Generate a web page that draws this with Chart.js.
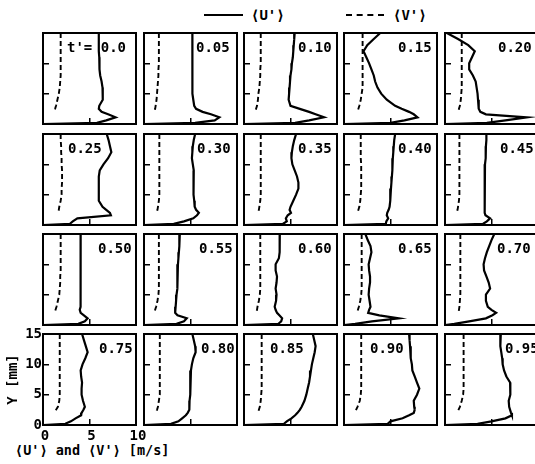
<!DOCTYPE html>
<html>
<head>
<meta charset="utf-8">
<script src="https://cdn.jsdelivr.net/npm/chart.js@4.4.1/dist/chart.umd.min.js"></script>
<style>
  html, body { margin: 0; padding: 0; background: #fff; }
  body { width: 535px; height: 464px; overflow: hidden; position: relative;
         font-family: 'DejaVu Sans Mono', monospace; font-weight: bold; color: #000; }
  canvas { position: absolute; }
  .tag { position: absolute; font-size: 14px; line-height: 14px; white-space: pre; }
  .legend { position: absolute; top: 8px; font-size: 14px; line-height: 14px; white-space: pre; }
  .key { position: absolute; top: 14px; height: 0; }
  .xtitle { position: absolute; left: 15px; top: 443px; font-size: 13.5px; line-height: 14px; white-space: pre; }
</style>
</head>
<body>
<div class="key" style="left:204px; width:39px; border-top:2px solid #000;"></div>
<div class="legend" style="left:251px;">⟨U'⟩</div>
<div class="key" style="left:346px; width:38px; border-top:2px dashed #000;"></div>
<div class="legend" style="left:393px;">⟨V'⟩</div>
<div class="xtitle">⟨U'⟩ and ⟨V'⟩ [m/s]</div>
<script>
// Height above the wall, mm (shared by every profile)
const yLevels = [15, 14, 13, 12, 11, 10, 9, 8, 7, 6, 5, 4, 3, 2.5, 2, 1.6, 1.1, 0.6, 0.2, 0];

// Phase of the cycle for each panel
const timeLabels = ['0.0', '0.05', '0.10', '0.15', '0.20',
                    '0.25', '0.30', '0.35', '0.40', '0.45',
                    '0.50', '0.55', '0.60', '0.65', '0.70',
                    '0.75', '0.80', '0.85', '0.90', '0.95'];

// Axis tick values
const xTicks = [0, 5, 10];
const yTicks = [0, 5, 10, 15];

// <U'> (m/s) at yLevels
const uT00 = [6.0, 6.0, 6.0, 6.0, 6.05, 6.05, 6.1, 6.15, 6.3, 6.4, 6.45, 6.4, 6.05, 6.0, 6.3, 7.0, 7.8, 6.8, 5.8, 0];
const uT05 = [5.2, 5.2, 5.2, 5.2, 5.2, 5.2, 5.2, 5.2, 5.2, 5.2, 5.25, 5.3, 5.4, 5.6, 6.3, 7.2, 8.1, 7.6, 5.5, 0];
const uT10 = [5.45, 5.4, 5.35, 5.3, 5.25, 5.15, 5.1, 5.0, 4.95, 4.9, 4.85, 4.8, 5.0, 6.0, 7.0, 7.7, 8.6, 7.0, 5.5, 0];
const uT15 = [3.9, 3.2, 2.5, 2.1, 2.4, 2.7, 2.95, 3.2, 3.35, 3.6, 4.0, 4.6, 5.5, 6.2, 7.0, 7.5, 7.9, 6.5, 5.0, 0];
const uT20 = [0.2, 1.4, 2.5, 3.2, 2.9, 2.6, 2.6, 3.0, 3.3, 3.4, 3.5, 3.55, 3.6, 3.65, 3.8, 4.4, 8.8, 6.5, 4.5, 0];
const uT25 = [6.85, 7.05, 7.2, 7.35, 7.0, 6.5, 6.1, 6.0, 6.0, 6.0, 6.0, 6.0, 6.4, 6.8, 7.2, 7.3, 3.7, 3.2, 2.9, 0];
const uT30 = [5.5, 5.35, 5.25, 5.2, 5.15, 5.25, 5.35, 5.35, 5.3, 5.3, 5.35, 5.4, 5.45, 5.6, 5.9, 5.7, 5.3, 4.3, 3.2, 0];
const uT35 = [5.6, 5.4, 5.25, 5.15, 5.1, 5.2, 5.45, 5.7, 5.85, 5.85, 5.6, 5.3, 5.0, 4.9, 5.05, 4.7, 4.5, 4.6, 4.2, 0];
const uT40 = [5.5, 5.4, 5.35, 5.3, 5.25, 5.2, 5.2, 5.15, 5.1, 5.05, 5.0, 4.95, 4.9, 4.8, 4.65, 4.6, 4.75, 4.55, 4.5, 0];
const uT45 = [4.45, 4.45, 4.4, 4.4, 4.35, 4.3, 4.3, 4.3, 4.25, 4.25, 4.25, 4.25, 4.25, 4.25, 4.3, 4.35, 4.85, 4.5, 4.1, 0];
const uT50 = [4.05, 4.05, 4.05, 4.05, 4.05, 4.05, 4.05, 4.05, 4.05, 4.05, 4.05, 4.0, 4.0, 3.95, 4.05, 4.4, 4.8, 4.5, 3.8, 0];
const uT55 = [3.85, 3.8, 3.8, 3.75, 3.7, 3.65, 3.6, 3.6, 3.6, 3.55, 3.5, 3.45, 3.4, 3.35, 3.35, 3.6, 4.6, 4.3, 3.5, 0];
const uT60 = [3.85, 3.85, 3.85, 3.8, 3.75, 3.4, 3.4, 3.55, 3.5, 3.4, 3.5, 3.45, 3.3, 3.4, 3.55, 3.8, 4.1, 4.0, 3.7, 0];
const uT65 = [2.3, 2.55, 2.85, 2.95, 2.8, 2.65, 2.7, 2.8, 2.8, 2.7, 2.65, 2.75, 2.85, 2.7, 2.6, 3.8, 5.9, 3.0, 1.2, 0];
const uT70 = [5.3, 5.0, 4.75, 4.5, 4.3, 4.15, 4.2, 4.45, 4.7, 4.85, 4.4, 4.4, 4.6, 5.0, 5.5, 5.1, 4.4, 2.6, 1.0, 0];
const uT75 = [4.2, 4.4, 4.6, 4.8, 4.55, 4.25, 4.05, 4.1, 4.2, 4.15, 4.15, 4.3, 4.5, 4.35, 4.15, 4.1, 3.5, 3.0, 2.4, 0];
const uT80 = [5.2, 5.35, 5.5, 5.55, 5.3, 5.15, 5.05, 5.0, 5.0, 4.95, 4.95, 4.9, 4.9, 4.85, 4.7, 4.5, 4.1, 3.7, 2.9, 0];
const uT85 = [7.4, 7.55, 7.7, 7.6, 7.45, 7.3, 7.2, 7.1, 7.0, 6.85, 6.7, 6.5, 6.2, 6.0, 5.75, 5.5, 5.1, 4.6, 4.3, 0];
const uT90 = [7.0, 7.05, 7.1, 7.15, 7.2, 7.3, 7.35, 7.6, 7.85, 8.1, 7.85, 7.5, 7.55, 7.6, 7.5, 7.0, 6.3, 5.0, 4.7, 0];
const uT95 = [6.0, 5.95, 5.95, 6.05, 6.15, 6.2, 6.35, 6.6, 7.0, 7.05, 7.0, 6.85, 6.9, 7.0, 7.1, 7.2, 6.5, 5.0, 3.5, 0];

// <V'> (m/s) at yLevels, measured down to y = 2 mm
const vT00 = [1.9, 1.9, 1.9, 1.9, 1.9, 1.9, 1.9, 1.9, 1.85, 1.8, 1.7, 1.55, 1.4, 1.3, 1.15];
const vT05 = [1.6, 1.6, 1.6, 1.6, 1.6, 1.6, 1.55, 1.55, 1.5, 1.45, 1.4, 1.35, 1.25, 1.2, 1.1];
const vT10 = [1.8, 1.8, 1.8, 1.8, 1.8, 1.8, 1.75, 1.75, 1.7, 1.65, 1.55, 1.5, 1.4, 1.3, 1.2];
const vT15 = [2.0, 2.0, 2.0, 2.0, 2.0, 2.0, 2.0, 2.0, 2.0, 2.0, 1.9, 1.8, 1.65, 1.55, 1.45];
const vT20 = [1.8, 1.8, 1.8, 1.8, 1.8, 1.8, 1.8, 1.8, 1.8, 1.8, 1.75, 1.7, 1.6, 1.5, 1.45];
const vT25 = [1.9, 1.9, 1.95, 1.95, 2.0, 2.0, 2.05, 2.05, 2.05, 2.0, 2.0, 1.9, 1.75, 1.7, 1.6];
const vT30 = [1.65, 1.65, 1.65, 1.65, 1.65, 1.65, 1.65, 1.65, 1.65, 1.65, 1.65, 1.6, 1.5, 1.45, 1.35];
const vT35 = [1.8, 1.8, 1.8, 1.8, 1.8, 1.8, 1.8, 1.8, 1.8, 1.8, 1.8, 1.75, 1.65, 1.6, 1.5];
const vT40 = [1.8, 1.8, 1.8, 1.8, 1.8, 1.85, 1.85, 1.85, 1.85, 1.85, 1.8, 1.75, 1.65, 1.55, 1.45];
const vT45 = [1.55, 1.55, 1.55, 1.55, 1.55, 1.55, 1.55, 1.55, 1.55, 1.55, 1.55, 1.5, 1.4, 1.35, 1.25];
const vT50 = [1.9, 1.9, 1.9, 1.9, 1.9, 1.9, 1.9, 1.85, 1.85, 1.8, 1.75, 1.6, 1.45, 1.35, 1.25];
const vT55 = [1.6, 1.6, 1.6, 1.6, 1.6, 1.6, 1.6, 1.6, 1.6, 1.6, 1.55, 1.45, 1.3, 1.2, 1.1];
const vT60 = [1.75, 1.75, 1.75, 1.75, 1.75, 1.75, 1.75, 1.75, 1.75, 1.75, 1.7, 1.6, 1.45, 1.4, 1.3];
const vT65 = [1.9, 1.9, 1.9, 1.9, 1.9, 1.9, 1.9, 1.9, 1.9, 1.9, 1.85, 1.75, 1.6, 1.5, 1.4];
const vT70 = [1.65, 1.65, 1.65, 1.65, 1.65, 1.65, 1.65, 1.65, 1.65, 1.65, 1.65, 1.6, 1.55, 1.5, 1.45];
const vT75 = [1.8, 1.8, 1.8, 1.8, 1.8, 1.8, 1.8, 1.8, 1.8, 1.8, 1.8, 1.75, 1.6, 1.4, 1.25];
const vT80 = [1.7, 1.7, 1.7, 1.7, 1.7, 1.7, 1.7, 1.7, 1.7, 1.7, 1.7, 1.6, 1.5, 1.4, 1.25];
const vT85 = [1.9, 1.9, 1.9, 1.9, 1.9, 1.9, 1.9, 1.9, 1.9, 1.9, 1.85, 1.8, 1.7, 1.6, 1.5];
const vT90 = [1.85, 1.85, 1.85, 1.85, 1.85, 1.85, 1.85, 1.85, 1.85, 1.85, 1.8, 1.7, 1.45, 1.3, 1.15];
const vT95 = [2.0, 2.0, 2.0, 2.0, 2.0, 2.0, 2.0, 2.0, 2.0, 2.0, 1.95, 1.8, 1.6, 1.45, 1.3];

const uSeries = [uT00, uT05, uT10, uT15, uT20, uT25, uT30, uT35, uT40, uT45,
                 uT50, uT55, uT60, uT65, uT70, uT75, uT80, uT85, uT90, uT95];
const vSeries = [vT00, vT05, vT10, vT15, vT20, vT25, vT30, vT35, vT40, vT45,
                 vT50, vT55, vT60, vT65, vT70, vT75, vT80, vT85, vT90, vT95];

// ---- layout of the 4 x 5 grid ----
const colLeft = [43, 144, 244, 344, 445];
const rowTop = [33, 134, 234, 334];
const PW = 93, PH = 91;          // plot area of each panel
const ML = 45, MB = 30, MT = 10, MR = 12;  // room around it inside the canvas
// horizontal position of the phase label inside each panel
const tagLeft = [24, 52, 54, 54, 53, 25, 53, 54, 54, 55, 55, 55, 54, 54, 52, 56, 57, 26, 26, 60];

const FONT = { family: "'DejaVu Sans Mono', monospace", size: 14, weight: 'bold' };

const panelFrame = {
  id: 'panelFrame',
  afterDatasetsDraw(chart) {
    const { ctx, chartArea: a } = chart;
    ctx.save();
    ctx.strokeStyle = '#000';
    ctx.lineWidth = 2;
    ctx.strokeRect(a.left, a.top, a.right - a.left, a.bottom - a.top);
    ctx.restore();
  }
};

// keep every plot area the same size whether or not labels are shown
const fixBox = (size) => (s) => {
  if (s.isHorizontal()) s.height = size; else s.width = size;
  s.paddingLeft = s.paddingRight = s.paddingTop = s.paddingBottom = 0;
};

const toPoints = (vals) => vals.map((v, i) => ({ x: v, y: yLevels[i] }));

timeLabels.forEach((label, k) => {
  const r = Math.floor(k / 5), c = k % 5;
  const corner = (r === 3 && c === 0);

  const cv = document.createElement('canvas');
  cv.width = ML + PW + MR;
  cv.height = MT + PH + MB;
  cv.style.left = (colLeft[c] - ML) + 'px';
  cv.style.top = (rowTop[r] - MT) + 'px';
  cv.style.width = cv.width + 'px';
  cv.style.height = cv.height + 'px';
  document.body.appendChild(cv);

  const tag = document.createElement('div');
  tag.className = 'tag';
  tag.textContent = k === 0 ? "t'= " + label : label;
  tag.style.left = (colLeft[c] + tagLeft[k]) + 'px';
  tag.style.top = (rowTop[r] + 7) + 'px';
  document.body.appendChild(tag);

  new Chart(cv, {
    type: 'scatter',
    data: {
      datasets: [
        { label: "⟨U'⟩", data: toPoints(uSeries[k]), showLine: true,
          borderColor: '#000', borderWidth: 2.2, pointRadius: 0, tension: 0 },
        { label: "⟨V'⟩", data: toPoints(vSeries[k]), showLine: true,
          borderColor: '#000', borderWidth: 1.9, borderDash: [5, 3], pointRadius: 0, tension: 0 }
      ]
    },
    options: {
      responsive: false,
      animation: false,
      events: [],
      layout: { padding: { top: MT, right: MR, left: 0, bottom: 0 } },
      plugins: { legend: { display: false }, tooltip: { enabled: false } },
      scales: {
        x: {
          type: 'linear', min: 0, max: 10,
          afterBuildTicks: (s) => { s.ticks = xTicks.map(v => ({ value: v })); },
          ticks: { display: corner, font: FONT, color: '#000', padding: 9, labelOffset: 2, maxRotation: 0 },
          grid: { drawOnChartArea: false, tickLength: -6, color: '#000', lineWidth: 1.5 },
          border: { display: true, color: '#000', width: 2 },
          afterFit: fixBox(MB)
        },
        y: {
          type: 'linear', min: 0, max: 15,
          afterBuildTicks: (s) => { s.ticks = yTicks.map(v => ({ value: v })); },
          ticks: { display: corner, font: FONT, color: '#000', padding: 7 },
          grid: { drawOnChartArea: false, tickLength: -6, color: '#000', lineWidth: 1.5 },
          border: { display: true, color: '#000', width: 2 },
          title: { display: corner, text: 'Y [mm]', font: FONT, color: '#000',
                   padding: { top: 7, bottom: 0 } },
          afterFit: fixBox(ML)
        }
      }
    },
    plugins: [panelFrame]
  });
});
</script>
</body>
</html>
